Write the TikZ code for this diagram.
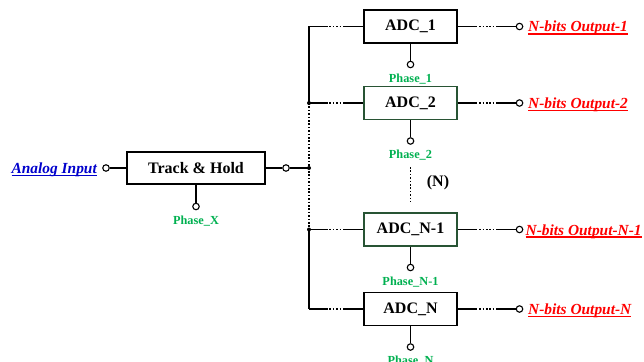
\documentclass[tikz,border=0pt]{standalone}
\usepackage{fontspec}
\setmainfont{Liberation Serif}
\usetikzlibrary{positioning}
\definecolor{phasegreen}{RGB}{0,176,80}
\definecolor{linkblue}{RGB}{0,0,204}
\definecolor{boxgreen}{RGB}{40,84,52}
\newcommand{\ultext}[1]{\setbox0\hbox{#1}\rlap{\rule[-2.6pt]{\wd0}{1.2pt}}\box0}
\tikzset{
  blockbox/.style={draw, line width=1.4pt, minimum width=93pt, minimum height=33pt, inner sep=0pt,
    font=\fontsize{16}{19}\selectfont\bfseries},
  jack/.style={circle, draw, line width=1.1pt, fill=white, minimum size=6.5pt, inner sep=0pt},
  phaselbl/.style={text=phasegreen, inner sep=0pt, font=\fontsize{12.3}{14}\selectfont\bfseries},
  outlbl/.style={text=red, inner sep=0pt, anchor=base west, font=\fontsize{15.4}{18}\selectfont\bfseries\itshape},
  wire/.style={line width=1.1pt},
  dotwire/.style={line width=1.3pt, dash pattern=on 1.6pt off 1.8pt}
}
\begin{document}
\begin{tikzpicture}[x=1pt,y=-1pt]
\useasboundingbox (0,0) rectangle (644,361);

% blocks
\node[blockbox, minimum width=138pt, minimum height=32pt] (th) at (196,168) {Track \& Hold};
\node[blockbox] (adc1) at (410.5,26.5) {ADC\_1};
\node[blockbox, draw=boxgreen] (adc2) at (410.5,103) {ADC\_2};
\node[blockbox, draw=boxgreen] (adcm) at (410.5,229.5) {ADC\_N-1};
\node[blockbox] (adcn) at (410.5,309) {ADC\_N};

% input and track & hold
\node[jack] (injack) at (106,168) {};
\node[anchor=base east, inner sep=0pt, text=linkblue, font=\fontsize{15.4}{18}\selectfont\bfseries\itshape] (inlbl) at (97,173.5) {\ultext{Analog Input}};
\node[jack] (thout) at (286,168) {};
\coordinate (jx) at (309,168);
\draw[wire] (injack) -- (th);
\draw[wire] (th) -- (thout);
\draw[wire] (thout) -- (jx);
\node[jack, below=18pt of th] (phx) {};
\draw[wire] (th) -- (phx);
\node[phaselbl, below=5pt of phx] (phxl) {Phase\_X};

% the ADC rows
\foreach \a/\y/\t/\x in {adc1/26.5/1/528, adc2/103/2/528, adcm/229.5/N-1/525.5, adcn/309/N/528}{
  \coordinate (l\a) at (309,\y);
  \draw[wire] (l\a) -- ++(17,0) coordinate (l\a a);
  \draw[dotwire] (l\a a) -- ++(19,0) coordinate (l\a b);
  \draw[wire] (l\a b) -- (\a);
  \node[jack, right=58pt of \a] (o\a) {};
  \draw[wire] (\a.east) -- ++(18,0) coordinate (r\a a);
  \draw[dotwire] (r\a a) -- ++(22,0) coordinate (r\a b);
  \draw[wire] (r\a b) -- (o\a);
  \node[outlbl] (t\a) at (\x,\y+5.5) {\ultext{N-bits Output-\t}};
  \node[jack, below=17pt of \a] (p\a) {};
  \draw[wire] (\a) -- (p\a);
  \node[phaselbl, below=5pt of p\a] (q\a) {Phase\_\t};
}

% bus
\draw[wire] (ladc1) -- (ladc2);
\draw[dotwire] (ladc2) -- (ladcm);
\draw[wire] (ladcm) -- (ladcn);
\fill (ladc2) circle (2pt) (ladcm) circle (2pt) (jx) circle (2pt);

% more channels
\coordinate (vtop) at (410.5,167);
\coordinate (vbot) at (410.5,202);
\draw[dotwire] (vtop) -- (vbot);
\node[inner sep=0pt, font=\fontsize{16}{19}\selectfont\bfseries] (more) at (438,183) {(N)};
\end{tikzpicture}
\end{document}
